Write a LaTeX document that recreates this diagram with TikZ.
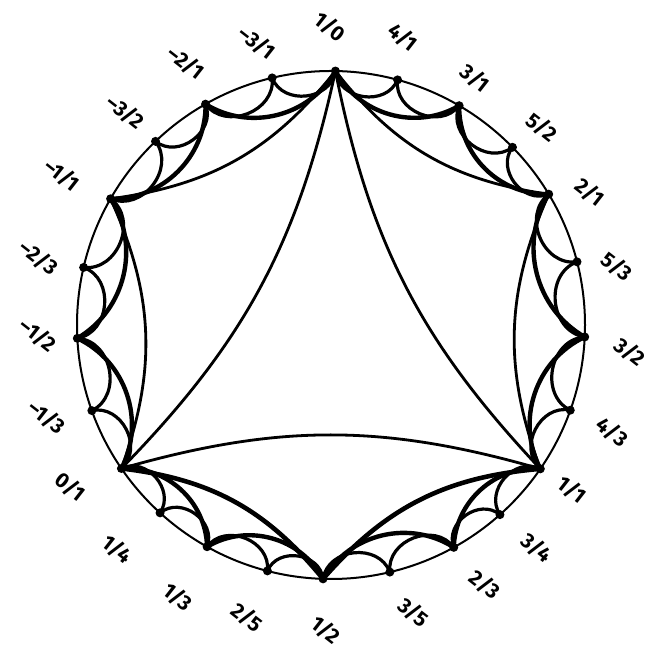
\documentclass[tikz,border=0pt]{standalone}
\usepackage{fontspec}
\usepackage{tikz}
\usetikzlibrary{calc}
\newfontfamily\fracfont{Fira Sans}[Ligatures=TeX]

\begin{document}
\begin{tikzpicture}[
    x=1pt,y=1pt,
    line cap=round,line join=round,
    rim/.style={line width=2pt},
    dot/.style={circle,fill=black,inner sep=0pt,minimum size=9pt},
    frac/.style={font=\fontsize{21}{24}\selectfont\fracfont\bfseries,rotate=-38,inner sep=0pt},
    tri/.style={line width=2.8pt,bend left=16},
    hex/.style={line width=2.8pt,bend left=22},
    hexb/.style={hex,line width=4.6pt},
    dod/.style={line width=4.4pt,bend left=46},
    small/.style={line width=3.2pt,bend left=75,looseness=1.2},
]
\useasboundingbox (0,0) rectangle (659,655);
\coordinate (c) at (331,330);

% ---- boundary circle ----
\draw[rim] (c) circle (254);

% ---- points on the circle and their fractions ----
\foreach \n/\a/\la/\ld/\p/\q in {
    f10/89/90.2/298/1/0, f41/74.8/76/297/4/1, f31/59.7/59.7/286/3/1,
    f52/44.4/43.2/289/5/2, f21/31/27.2/291/2/1, f53/14.4/11.5/292/5/3,
    f32/-2.7/-5.2/300/3/2, f43/-19.6/-20.8/301/4/3, f11/-34.5/-34.4/292/1/1,
    f34/-48.3/-47.3/303/3/4, f23/-61.1/-59.4/302/2/3, f35/-76.6/-74/299/3/5,
    f12/-91.8/-91/305/1/2, f25/-104.5/-106/304/2/5, f13/-119.2/-119.4/312/1/3,
    f14/-132.3/-133.6/310/1/4, f01/-145.6/-148.2/307/0/1, m13/-160.3/-162/299/--1/3,
    m12/-177/-178/293/--1/2, m23/166.9/167/300/--2/3, m11/150.2/150.9/308/--1/1,
    m32/133.7/134/296/--3/2, m21/119.6/119/300/--2/1, m31/103.4/104.7/292/--3/1}{
  \node[dot] (\n) at ($(c)+(\a:254)$) {};
  \node[frac] (l\n) at ($(c)+(\la:\ld)$) {\p/\q};
}

% ---- main triangle ----
\foreach \s/\t in {f11/f10, f10/f01, f01/f11}
  \draw[tri] (\s.center) to (\t.center);

% ---- hexagon ----
\foreach \s/\t in {f11/f21, f21/f10, f10/m11, m11/f01}
  \draw[hex] (\s.center) to (\t.center);
\foreach \s/\t in {f01/f12, f12/f11}
  \draw[hexb] (\s.center) to (\t.center);

% ---- twelve-gon ----
\foreach \s/\t in {f12/f23, f23/f11, f11/f32, f32/f21, f21/f31, f31/f10,
                   f10/m21, m21/m11, m11/m12, m12/f01, f01/f13, f13/f12}
  \draw[dod] (\s.center) to (\t.center);

% ---- small arcs between neighbours ----
\foreach \s/\t in {f12/f35, f35/f23, f23/f34, f34/f11, f11/f43, f43/f32,
                   f32/f53, f53/f21, f21/f52, f52/f31, f31/f41, f41/f10,
                   f10/m31, m31/m21, m21/m32, m32/m11, m11/m23, m23/m12,
                   m12/m13, m13/f01, f01/f14, f14/f13, f13/f25, f25/f12}
  \draw[small] (\s.center) to (\t.center);

\end{tikzpicture}
\end{document}
